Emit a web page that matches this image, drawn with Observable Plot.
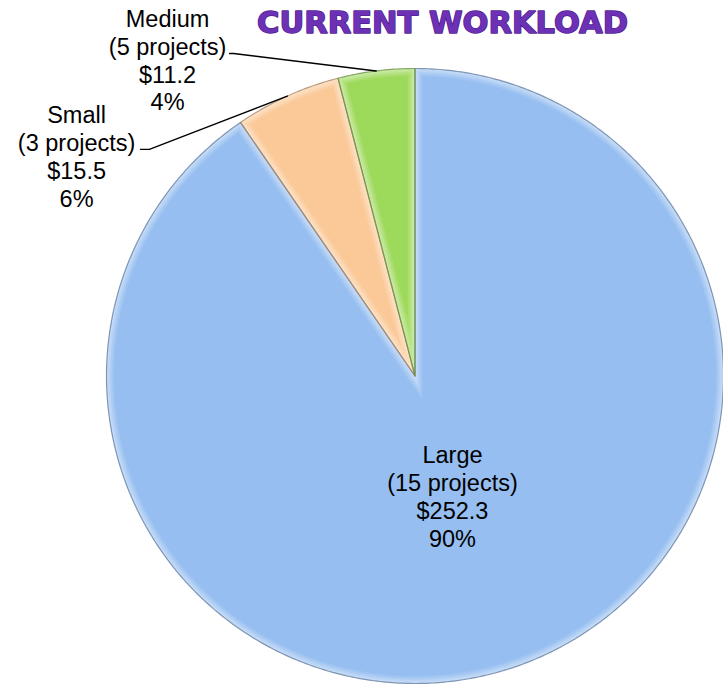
<!DOCTYPE html>
<html>
<head>
<meta charset="utf-8">
<script src="https://cdn.jsdelivr.net/npm/d3@7"></script>
<script src="https://cdn.jsdelivr.net/npm/@observablehq/plot@0.6"></script>
<style>
  html, body { margin: 0; padding: 0; background: #ffffff; }
  #chart { width: 723px; height: 688px; overflow: hidden; }
</style>
</head>
<body>
<div id="chart"></div>
<script>
// ---- data ----
const title = "CURRENT WORKLOAD";
const categories = ["Large", "Small", "Medium"];
const projectCounts = [15, 3, 5];
const amounts = [252.3, 15.5, 11.2];
const sliceColors = ["#96BEF0", "#FBC997", "#9DD95B"];

// ---- layout (unit-circle coordinates) ----
const W = 723, H = 688;
const insideLabelRadius = 0.41;
const outsideLabels = {
  Small:  {x: -1.097, y: 0.715, line: [[-0.890, 0.737], [-0.861, 0.737]]},
  Medium: {x: -0.802, y: 1.029, line: [[-0.601, 1.049], [-0.588, 1.049]]}
};

const total = d3.sum(amounts);
const arcs = d3.pie().sort(null)(amounts);
const pt = (a, r) => [r * Math.sin(a), r * Math.cos(a)];

function slicePolygon(a0, a1, d, key, color) {
  const R = 1 - d;
  const off = d > 0 ? Math.asin(d / R) : 0;
  const b0 = a0 + off, b1 = a1 - off;
  const half = (a1 - a0) / 2;
  const apex = d > 0 ? pt((a0 + a1) / 2, d / Math.sin(half)) : [0, 0];
  const pts = [{x: apex[0], y: apex[1], key, color}];
  const n = Math.max(4, Math.ceil((b1 - b0) / 0.01));
  for (let k = 0; k <= n; k++) {
    const [x, y] = pt(b0 + (b1 - b0) * k / n, R);
    pts.push({x, y, key, color});
  }
  return pts;
}

const bevelSteps = [0, 0.006, 0.012, 0.018, 0.024];
const bevelLight = [0.45, 0.34, 0.22, 0.10, 0];
const layers = bevelSteps.map((d, li) =>
  arcs.flatMap((a, i) => {
    const c = d3.interpolateRgb(sliceColors[i], "#ffffff")(bevelLight[li]);
    return slicePolygon(a.startAngle, a.endAngle, d, categories[i] + li, c);
  })
);
const outlines = arcs.flatMap((a, i) =>
  slicePolygon(a.startAngle, a.endAngle, 0, categories[i], d3.color(sliceColors[i]).darker(1.1).formatHex())
);

const labels = arcs.map((a, i) => {
  const name = categories[i];
  const pct = Math.round(amounts[i] / total * 100) + "%";
  const text = `${name}\n(${projectCounts[i]} projects)\n$${amounts[i].toFixed(1)}\n${pct}`;
  const mid = (a.startAngle + a.endAngle) / 2;
  let x, y;
  if (outsideLabels[name]) { x = outsideLabels[name].x; y = outsideLabels[name].y; }
  else { [x, y] = pt(mid, insideLabelRadius); }
  return {name, text, x, y};
});

const leaders = arcs.flatMap((a, i) => {
  const name = categories[i];
  const o = outsideLabels[name];
  if (!o) return [];
  const mid = (a.startAngle + a.endAngle) / 2;
  const end = pt(mid, 1.0);
  return [...o.line, end].map(([x, y]) => ({x, y, name}));
});

const font = "'Liberation Sans', Arial, sans-serif";

const chart = Plot.plot({
  width: W,
  height: H,
  margin: 0,
  x: {domain: [-1, 1], range: [106, 723], axis: null},
  y: {domain: [-1, 1], range: [683, 68], axis: null},
  color: {type: "identity"},
  marks: [
    ...layers.map(L => Plot.line(L, {x: "x", y: "y", z: "key", fill: "color", stroke: "none", curve: "linear-closed"})),
    Plot.line(outlines, {x: "x", y: "y", z: "key", stroke: "color", strokeWidth: 1.2, strokeOpacity: 0.8, curve: "linear-closed"}),
    Plot.line(leaders, {x: "x", y: "y", z: "name", stroke: "#000000", strokeWidth: 1.4}),
    Plot.text(labels, {x: "x", y: "y", text: "text", fontSize: 23.5, lineHeight: 1.19, fontFamily: font, fill: "#000000", textAnchor: "middle", lineAnchor: "middle"}),
    Plot.text([title], {frameAnchor: "top-left", dx: 442, dy: 23, text: d => d, textAnchor: "middle", lineAnchor: "middle",
      fontFamily: "'DejaVu Sans', sans-serif", fontWeight: "bold", fontSize: 30.5, fill: "#6C31B5", stroke: "#4F1D90", strokeWidth: 1.5, paintOrder: "stroke"})
  ]
});

document.getElementById("chart").appendChild(chart);
</script>
</body>
</html>
